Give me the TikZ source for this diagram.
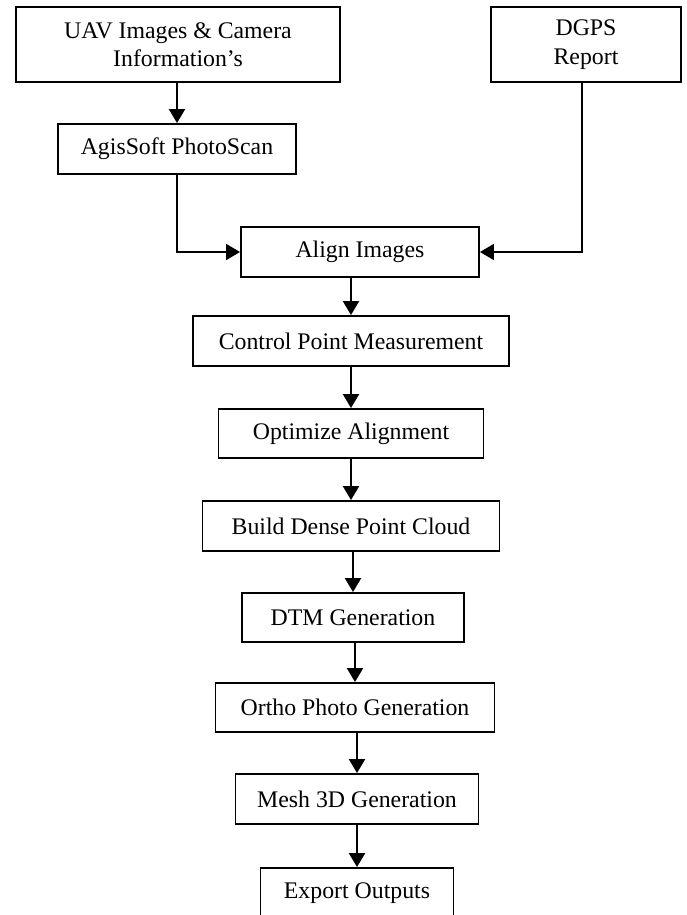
\documentclass[tikz,border=0pt]{standalone}
\usepackage{fontspec}
\setmainfont{Liberation Serif}
\usetikzlibrary{arrows.meta}
\tikzset{
  stepbox/.style={draw, line width=1.9pt, inner sep=0pt, align=center,
    font=\fontsize{23.8}{28.5}\selectfont},
  flow/.style={line width=2.2pt, -{Triangle[length=14pt,width=16pt]}},
  thinflow/.style={line width=1.7pt, -{Triangle[length=14pt,width=16pt]}}
}
\begin{document}
\begin{tikzpicture}[x=1pt,y=-1pt]
\useasboundingbox (0,0) rectangle (686,915);
\clip (0,0) rectangle (686,915);
% input boxes
\node[stepbox, minimum width=324pt, minimum height=75pt] (uav) at (178,44.5) {UAV Images \& Camera\\Information’s};
\node[stepbox, minimum width=190pt, minimum height=75pt] (dgps) at (586,44.5) {DGPS\\Report};
\node[stepbox, minimum width=238pt, minimum height=50pt] (agis) at (177,149) {AgisSoft PhotoScan};
% processing chain
\node[stepbox, minimum width=238pt, minimum height=50pt] (align) at (360,252) {Align Images};
\node[stepbox, minimum width=316pt, minimum height=50pt] (cpm) at (351,341) {Control Point Measurement};
\node[stepbox, minimum width=265pt, minimum height=49pt] (opt) at (351,433.5) {Optimize Alignment};
\node[stepbox, minimum width=297pt, minimum height=50pt] (dense) at (351,526) {Build Dense Point Cloud};
\node[stepbox, minimum width=222pt, minimum height=49pt] (dtm) at (353,617.5) {DTM Generation};
\node[stepbox, minimum width=279pt, minimum height=49pt] (ortho) at (355,707.5) {Ortho Photo Generation};
\node[stepbox, minimum width=243pt, minimum height=50pt] (mesh) at (357,799) {Mesh 3D Generation};
\node[stepbox, minimum width=193pt, minimum height=50pt] (export) at (357,893) {Export Outputs};
% connectors
\draw[flow] (agis.north |- uav.south) -- (agis.north);
\draw[thinflow] (agis.south) |- (align.west);
\draw[thinflow] ([xshift=-4pt]dgps.south) |- (align.east);
\draw[flow] (cpm.north |- align.south) -- (cpm.north);
\draw[flow] (opt.north |- cpm.south) -- (opt.north);
\draw[flow] (dense.north |- opt.south) -- (dense.north);
\draw[flow] (dtm.north |- dense.south) -- (dtm.north);
\draw[flow] (ortho.north |- dtm.south) -- (ortho.north);
\draw[flow] (mesh.north |- ortho.south) -- (mesh.north);
\draw[flow] (export.north |- mesh.south) -- (export.north);
\end{tikzpicture}
\end{document}
